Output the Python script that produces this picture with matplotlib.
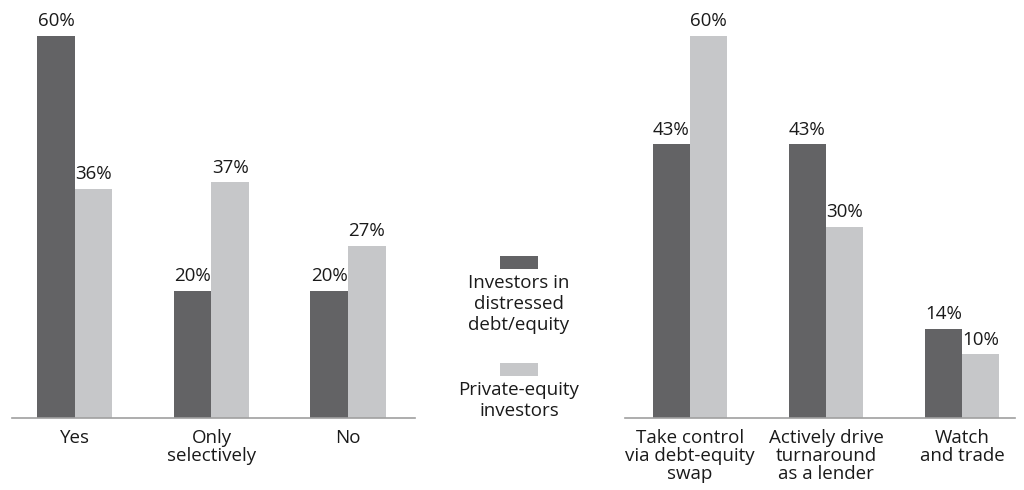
import matplotlib

matplotlib.use("Agg")
import matplotlib.pyplot as plt
from matplotlib.patches import Rectangle

plt.rcParams["font.family"] = ["Open Sans", "DejaVu Sans"]

DARK = "#636365"
LIGHT = "#c6c7c9"
AXIS = "#a0a0a0"
TEXT = "#1a1a1a"
FS = 13.5

# left panel: would they invest
left_categories = ["Yes", "Only\nselectively", "No"]
left_distressed = [60, 20, 20]
left_private_equity = [36, 37, 27]

# right panel: preferred approach
right_categories = ["Take control\nvia debt-equity\nswap", "Actively drive\nturnaround\nas a lender", "Watch\nand trade"]
right_distressed = [43, 43, 14]
right_private_equity = [60, 30, 10]

series_names = ["Investors in\ndistressed\ndebt/equity", "Private-equity\ninvestors"]

W, H = 1024, 490
fig = plt.figure(figsize=(W / 100, H / 100), dpi=100)

BASE_Y = 418
TOP_Y = 36
BAR_W = 0.275


def panel(x0, x1, xlim, categories, dark_vals, light_vals):
    ax = fig.add_axes([x0 / W, 1 - BASE_Y / H, (x1 - x0) / W, (BASE_Y - TOP_Y) / H])
    xs = range(len(categories))
    ax.bar([x - BAR_W / 2 for x in xs], dark_vals, BAR_W, color=DARK)
    ax.bar([x + BAR_W / 2 for x in xs], light_vals, BAR_W, color=LIGHT)
    for x, d, l in zip(xs, dark_vals, light_vals):
        ax.text(x - BAR_W / 2, d + 0.9, f"{d}%", ha="center", va="bottom", fontsize=FS, color=TEXT)
        ax.text(x + BAR_W / 2, l + 0.9, f"{l}%", ha="center", va="bottom", fontsize=FS, color=TEXT)
    ax.set_xlim(*xlim)
    ax.set_ylim(0, 60)
    ax.set_xticks(list(xs))
    ax.set_xticklabels(categories, fontsize=FS, color=TEXT, linespacing=1.0)
    ax.tick_params(axis="x", length=0, pad=8)
    ax.set_yticks([])
    for side in ("top", "right", "left"):
        ax.spines[side].set_visible(False)
    ax.spines["bottom"].set_color(AXIS)
    ax.spines["bottom"].set_linewidth(1.2)
    ax.patch.set_alpha(0)
    return ax


panel(12, 415, (-0.46, 2.49), left_categories, left_distressed, left_private_equity)
panel(625, 1015, (-0.478, 2.39), right_categories, right_distressed, right_private_equity)

# legend in the gap between the two panels
cx = 519
for name, color, sw_y in zip(series_names, [DARK, LIGHT], [256, 363]):
    fig.patches.append(Rectangle(((cx - 19) / W, 1 - (sw_y + 13) / H), 38 / W, 13 / H,
                                 transform=fig.transFigure, facecolor=color, edgecolor="none"))
    fig.text(cx / W, 1 - (sw_y + 18) / H, name, ha="center", va="top", fontsize=FS,
             color=TEXT, linespacing=1.22)

fig.savefig("out.png", dpi=100)
